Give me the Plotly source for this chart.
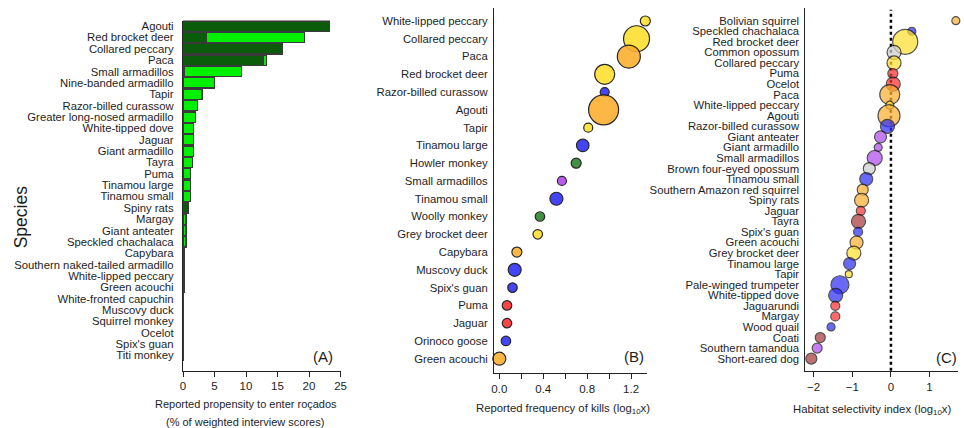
import plotly.graph_objects as go

W, H = 964, 428
FONT = "Liberation Sans, Arial, sans-serif"
TXT = "#1e1e1e"

# ---------------- Panel A: propensity to enter roçados ----------------
a_species = [
    "Agouti", "Red brocket deer", "Collared peccary", "Paca", "Small armadillos",
    "Nine-banded armadillo", "Tapir", "Razor-billed curassow", "Greater long-nosed armadillo",
    "White-tipped dove", "Jaguar", "Giant armadillo", "Tayra", "Puma", "Tinamou large",
    "Tinamou small", "Spiny rats", "Margay", "Giant anteater", "Speckled chachalaca",
    "Capybara", "Southern naked-tailed armadillo", "White-lipped peccary", "Green acouchi",
    "White-fronted capuchin", "Muscovy duck", "Squirrel monkey", "Ocelot", "Spix's guan",
    "Titi monkey",
]
a_dark = [23.2, 3.66, 15.85, 12.7, 0.26, 0, 0, 0, 0, 0, 0, 0, 0, 0, 0, 0, 0.88, 0, 0, 0,
          0.1, 0.08, 0.08, 0.15, 0.12, 0.1, 0.08, 0.06, 0.05, 0.05]
a_bright = [0, 15.6, 0, 0.5, 9.0, 4.97, 3.03, 2.24, 1.93, 1.72, 1.72, 1.62, 1.45, 1.24, 1.24,
            1.24, 0, 0.47, 0.47, 0.47, 0.2, 0.18, 0.16, 0, 0, 0, 0, 0, 0, 0]
a_ticks = [0, 5, 10, 15, 20, 25]

# ---------------- Panel B: reported frequency of kills ----------------
b_species = [
    "White-lipped peccary", "Collared peccary", "Paca", "Red brocket deer",
    "Razor-billed curassow", "Agouti", "Tapir", "Tinamou large", "Howler monkey",
    "Small armadillos", "Tinamou small", "Woolly monkey", "Grey brocket deer", "Capybara",
    "Muscovy duck", "Spix's guan", "Puma", "Jaguar", "Orinoco goose", "Green acouchi",
]
b_kills = [1.33, 1.25, 1.18, 0.96, 0.96, 0.95, 0.81, 0.76, 0.70, 0.57, 0.52, 0.37, 0.35,
           0.16, 0.14, 0.12, 0.07, 0.07, 0.06, 0.0]
b_diam = [10, 26, 23, 20, 9, 30, 9, 12.5, 10, 9, 13, 9.5, 9.5, 10, 13, 9.5, 9.5, 9.5, 9.5, 13]
b_group = ["ungulate", "ungulate", "rodent", "ungulate", "bird", "rodent", "ungulate", "bird",
           "primate", "xenarthran", "bird", "primate", "ungulate", "rodent", "bird", "bird",
           "felid", "felid", "bird", "rodent"]
b_ticks = [0.0, 0.4, 0.8, 1.2]

# ---------------- Panel C: habitat selectivity index ----------------
c_species = [
    "Bolivian squirrel", "Speckled chachalaca", "Red brocket deer", "Common opossum",
    "Collared peccary", "Puma", "Ocelot", "Paca", "White-lipped peccary", "Agouti",
    "Razor-billed curassow", "Giant anteater", "Giant armadillo", "Small armadillos",
    "Brown four-eyed opossum", "Tinamou small", "Southern Amazon red squirrel", "Spiny rats",
    "Jaguar", "Tayra", "Spix's guan", "Green acouchi", "Grey brocket deer", "Tinamou large",
    "Tapir", "Pale-winged trumpeter", "White-tipped dove", "Jaguarundi", "Margay",
    "Wood quail", "Coati", "Southern tamandua", "Short-eared dog",
]
c_index = [1.68, 0.54, 0.37, 0.08, 0.08, 0.05, 0.06, -0.03, -0.03, -0.05, -0.09, -0.27,
           -0.33, -0.42, -0.56, -0.64, -0.73, -0.76, -0.78, -0.84, -0.85, -0.89, -0.96,
           -1.07, -1.09, -1.32, -1.43, -1.44, -1.44, -1.55, -1.83, -1.91, -2.06]
c_diam = [8, 8, 25, 14, 14, 10, 14, 20, 8, 22, 14, 12, 8, 15, 12, 13, 11, 14, 9, 14, 9, 13,
          14, 12, 7, 18, 14, 9, 9, 8, 10, 10, 11]
c_group = ["rodent", "bird", "ungulate", "marsupial", "ungulate", "felid", "felid", "rodent",
           "ungulate", "rodent", "bird", "xenarthran", "xenarthran", "xenarthran", "marsupial",
           "bird", "rodent", "rodent", "felid", "carnivore", "bird", "rodent", "ungulate", "bird",
           "ungulate", "bird", "bird", "felid", "felid", "bird", "carnivore", "xenarthran",
           "carnivore"]
c_ticks = [-2, -1, 0, 1]

group_colour = {
    "ungulate": "#FFE030",
    "rodent": "#FDB030",
    "bird": "#3030F8",
    "primate": "#2E862E",
    "xenarthran": "#B24CEE",
    "felid": "#FF3030",
    "carnivore": "#A83A3A",
    "marsupial": "#CFCFCF",
}


def px_x(p):
    return p / W


def px_y(p):
    return 1 - p / H


fig = go.Figure()

# Panel A stacked bars
fig.add_trace(go.Bar(
    y=a_species, x=[v if v > 0 else None for v in a_dark], orientation="h",
    marker=dict(color="#0A5C0A", line=dict(color="#3a3a3a", width=1.2)),
    width=0.9, xaxis="x", yaxis="y", showlegend=False,
))
fig.add_trace(go.Bar(
    y=a_species, x=[v if v > 0 else None for v in a_bright], orientation="h",
    base=a_dark,
    marker=dict(color="#00F000", line=dict(color="#3a3a3a", width=1.2)),
    width=0.9, xaxis="x", yaxis="y", showlegend=False,
))

# Panel B bubbles
fig.add_trace(go.Scatter(
    x=b_kills, y=b_species, mode="markers", xaxis="x2", yaxis="y2",
    marker=dict(size=b_diam, color=[group_colour[g] for g in b_group], opacity=0.9,
                line=dict(color="#111", width=1.2)),
    cliponaxis=False, showlegend=False,
))

# Panel C bubbles
fig.add_trace(go.Scatter(
    x=c_index, y=c_species, mode="markers", xaxis="x3", yaxis="y3",
    marker=dict(size=c_diam, color=[group_colour[g] for g in c_group], opacity=0.72,
                line=dict(color="#111", width=1.2)),
    cliponaxis=False, showlegend=False,
))

axis_common = dict(showgrid=False, zeroline=False, showline=True, linecolor="#222",
                   linewidth=1.2, tickfont=dict(family=FONT, size=11.5, color=TXT),
                   fixedrange=True)
cat_common = dict(type="category", tickmode="linear", tick0=0, dtick=1, ticks="",
                  showgrid=False, zeroline=False, showline=True, linecolor="#222",
                  linewidth=1.2, tickfont=dict(family=FONT, size=11.3, color=TXT),
                  fixedrange=True, categoryorder="array")

# A geometry
a_x0, a_x1 = 181.7, 340.7
a_top, a_bot = 20.5, 370.5
# B geometry
b_x0, b_x1 = 495.7, 650.0
b_top, b_bot = 8.0, 373.3
b_zero, b_scale = 501.0, 110.8
# C geometry
c_x0, c_x1 = 810.0, 964.0
c_top, c_bot = 8.0, 370.7
c_zero, c_scale = 896.3, 39.0

fig.update_layout(
    width=W, height=H, margin=dict(l=0, r=0, t=0, b=0),
    paper_bgcolor="white", plot_bgcolor="white",
    barmode="stack", bargap=0.1,
    font=dict(family=FONT, color=TXT),
    xaxis=dict(domain=[px_x(a_x0), px_x(a_x1)], range=[0, 25], anchor="y",
               tickvals=a_ticks, ticks="outside", ticklen=5, tickcolor="#222", **axis_common),
    yaxis=dict(domain=[px_y(a_bot), px_y(a_top)], anchor="x", categoryarray=a_species,
               range=[len(a_species) - 1 + 1.32, -0.5], ticklabelstandoff=6, **cat_common),
    xaxis2=dict(domain=[px_x(b_x0), px_x(b_x1)],
                range=[(b_x0 - b_zero) / b_scale, (b_x1 - b_zero) / b_scale], anchor="y2",
                tickvals=b_ticks, ticktext=[f"{v:.1f}" for v in b_ticks],
                ticks="outside", ticklen=5, tickcolor="#222",
                minor=dict(dtick=0.2, tick0=0, ticks="outside", ticklen=5, tickcolor="#222"),
                **axis_common),
    yaxis2=dict(domain=[px_y(b_bot), px_y(b_top)], anchor="x2", categoryarray=b_species,
                range=[len(b_species) - 1 + 0.82, -0.73], ticklabelstandoff=3, **cat_common),
    xaxis3=dict(domain=[px_x(c_x0), px_x(c_x1)],
                range=[(c_x0 - c_zero) / c_scale, (c_x1 - c_zero) / c_scale], anchor="y3",
                tickvals=c_ticks, ticks="outside", ticklen=5, tickcolor="#222",
                **axis_common),
    yaxis3=dict(domain=[px_y(c_bot), px_y(c_top)], anchor="x3", categoryarray=c_species,
                range=[len(c_species) - 1 + 1.14, -1.2], ticklabelstandoff=3, **cat_common),
)

# dotted reference line at zero selectivity
fig.add_shape(type="line", xref="x3", yref="y3 domain", x0=0, x1=0, y0=0, y1=0.995,
              line=dict(color="black", width=2.5, dash="dot"), layer="below")

ann = [
    dict(text="Species", x=px_x(18.5), y=px_y(217), textangle=-90, font_size=17.5),
    dict(text="Reported propensity to enter roçados", x=px_x(245), y=px_y(403.5),
         font_size=11),
    dict(text="(% of weighted interview scores)", x=px_x(244.5), y=px_y(422), font_size=11),
    dict(text="Reported frequency of kills (log<sub>10</sub>x)", x=px_x(565), y=px_y(408.5),
         font_size=11.3),
    dict(text="Habitat selectivity index (log<sub>10</sub>x)", x=px_x(877), y=px_y(410),
         font_size=11.3),
    dict(text="(A)", x=px_x(323), y=px_y(356.5), font_size=15),
    dict(text="(B)", x=px_x(636.5), y=px_y(356.5), font_size=15),
    dict(text="(C)", x=px_x(952), y=px_y(357), font_size=15),
]
for a in ann:
    fs = a.pop("font_size")
    fig.add_annotation(xref="paper", yref="paper", showarrow=False, xanchor="center",
                       yanchor="middle", font=dict(family=FONT, size=fs, color=TXT), **a)

fig.write_html("out.html")
